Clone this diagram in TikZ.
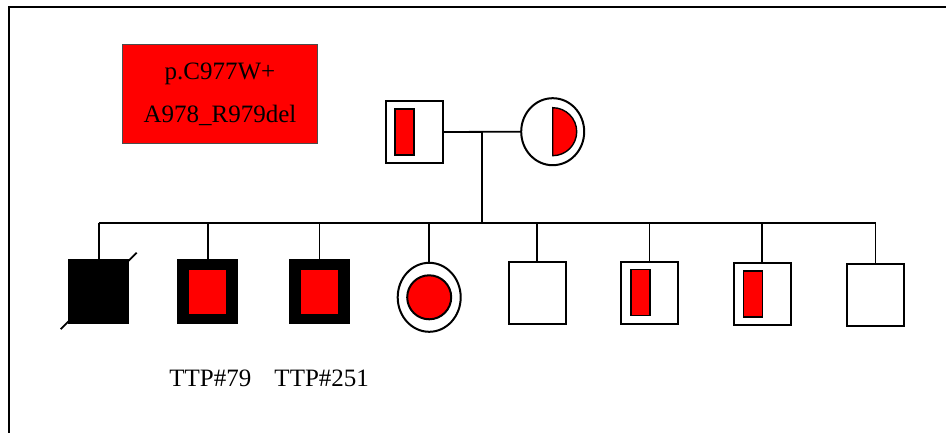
\documentclass[tikz,border=0pt]{standalone}
\usepackage{fontspec}
\setmainfont{Liberation Serif}
\usetikzlibrary{calc,shapes.geometric}

\tikzset{
	male/.style={draw, line width=2pt, minimum width=57pt, minimum height=62pt, inner sep=0pt},
	female/.style={draw, ellipse, line width=2pt, minimum width=63pt, minimum height=67pt, inner sep=0pt},
	affected/.style={male, fill=black, minimum width=59pt, minimum height=63pt},
	carrier/.style={draw, fill=red, line width=1.4pt, minimum width=19pt, minimum height=46pt, inner sep=0pt},
	mutbox/.style={fill=red, minimum width=37pt, minimum height=44pt, inner sep=0pt},
	line/.style={line width=1.8pt},
	txt/.style={font=\fontsize{25}{43}\selectfont}
}

\begin{document}
\begin{tikzpicture}[x=1pt, y=-1pt]
		\useasboundingbox (0,0) rectangle (946,433);
		\draw[line width=2pt] (9,433) |- (946,7);
		% mutation legend
		\node[draw=black!70, fill=red, line width=0.8pt, minimum width=195pt, minimum height=99pt, align=center, txt] (mut) at (220,94) {p.C977W+\\A978\_R979del};
		% parents
		\node[male] (father) at (414,132) {};
		\node[carrier] (fcarr) at (404.3,132) {};
		\node[female] (mother) at (552.7,131.7) {};
		\draw[fill=red, line width=1.4pt] ($(mother.center)+(0,-24)$) arc[start angle=90, end angle=-90, radius=24pt] -- cycle;
		\draw[line] (father.east) -- (mother.west);
		\coordinate (mid) at (481.7,132);
		\coordinate (sib) at (481.7,223);
		\draw[line] (mid) -- (sib);
		% children
		\node[affected] (c1) at (98.7,291.7) {};
		\draw[line] ($(c1.south west)+(-7.5,5)$) -- ($(c1.north east)+(7.5,-6.5)$);
		\node[affected] (c2) at (207.8,291.7) {};
		\node[mutbox] at (c2) {};
		\node[affected] (c3) at (319.5,291.7) {};
		\node[mutbox] at (c3) {};
		\node[female, minimum height=69pt] (c4) at (429.2,297.3) {};
		\node[draw, circle, fill=red, line width=2pt, minimum size=44pt, inner sep=0pt] at (c4) {};
		\node[male] (c5) at (537,293.2) {};
		\node[male] (c6) at (649.5,292.7) {};
		\node[carrier] at (640.5,292.6) {};
		\node[male] (c7) at (762,293.7) {};
		\node[carrier] at (753.1,293.9) {};
		\node[male] (c8) at (875.5,294.8) {};
		\draw[line] (c1.north |- sib) -- (c8.north |- sib);
		\foreach \c in {c1,c2,c3,c4,c5,c6,c7,c8}
			\draw[line] (\c.north |- sib) -- (\c.north);
		% patient numbers
		\node[txt, anchor=base, inner sep=0pt] (p79) at ($(c2.south |- 0,386.7)+(2.5,0)$) {TTP\#79};
		\node[txt, anchor=base, inner sep=0pt] (p251) at ($(c3.south |- 0,386.7)+(2.2,0)$) {TTP\#251};
	\end{tikzpicture}
\end{document}
